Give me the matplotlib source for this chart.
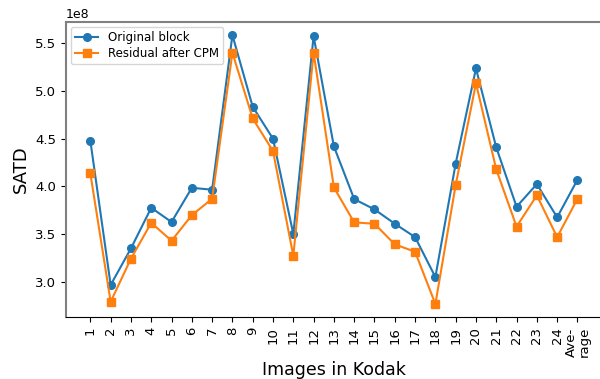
import numpy as np
import matplotlib.pyplot as plt

# 이미지 번호 (마지막은 평균)
labels = [str(i) for i in range(1, 25)] + ['Ave-\nrage']
original = [4.478, 2.969, 3.352, 3.777, 3.628, 3.986, 3.966, 5.584, 4.834, 4.500,
            3.502, 5.573, 4.419, 3.868, 3.760, 3.610, 3.470, 3.052, 4.240, 5.235,
            4.409, 3.788, 4.025, 3.677, 4.070]
residual = [4.137, 2.794, 3.244, 3.620, 3.432, 3.700, 3.871, 5.399, 4.712, 4.370,
            3.275, 5.400, 3.990, 3.624, 3.610, 3.394, 3.317, 2.770, 4.015, 5.080,
            4.179, 3.580, 3.907, 3.470, 3.871]

x = np.arange(1, len(labels) + 1)
original = np.array(original) * 1e8
residual = np.array(residual) * 1e8

fig = plt.figure(figsize=(6, 3.79), dpi=100)
ax = fig.add_axes([0.11, 0.1636, 0.893, 0.778])

ax.plot(x, original, marker='o', markersize=5.5, color='#1f77b4', label='Original block')
ax.plot(x, residual, marker='s', markersize=5.5, color='#ff7f0e', label='Residual after CPM')

ax.set_xlim(-0.2, 26.2)
ax.set_ylim(2.634e8, 5.72e8)
ax.set_xticks(x)
ax.set_xticklabels(labels, rotation=90, fontsize=9.5, linespacing=1.0)
ax.tick_params(axis='y', labelsize=9.5)
ax.yaxis.get_offset_text().set_fontsize(9)
ax.set_xlabel('Images in Kodak', fontsize=12.5, labelpad=3)
ax.set_ylabel('SATD', fontsize=13)

for s in ['left', 'top']:
    ax.spines[s].set_color('gray')
    ax.spines[s].set_linewidth(1.5)

ax.legend(loc='upper left', fontsize=8.5, labelspacing=0.25, borderpad=0.35,
          borderaxespad=0.4)
fig.savefig('out.png', dpi=100)
